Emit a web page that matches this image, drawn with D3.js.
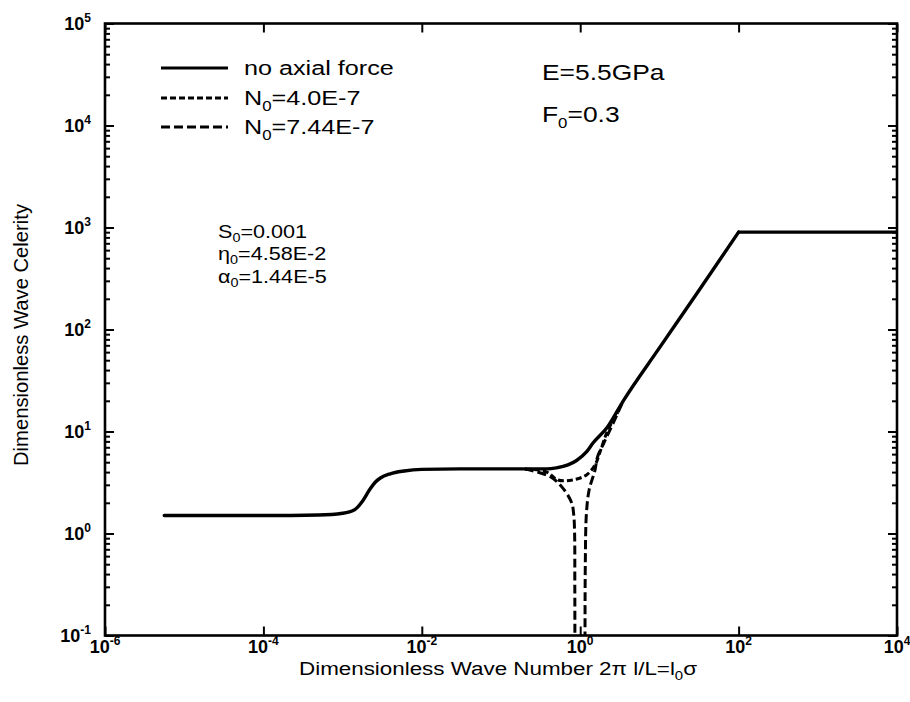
<!DOCTYPE html>
<html>
<head>
<meta charset="utf-8">
<script src="https://cdn.jsdelivr.net/npm/d3@7"></script>
<style>
  html, body { margin: 0; padding: 0; background: #fff; }
  svg { display: block; }
  text { font-family: "Liberation Sans", Arial, Helvetica, sans-serif; fill: #000; }
</style>
</head>
<body>
<svg id="chart" width="910" height="702"></svg>
<script>
// Dispersion curves: dimensionless wave celerity vs dimensionless wave number
const xTicks = [1e-6, 1e-4, 1e-2, 1e0, 1e2, 1e4];
const xTickExp = ["-6", "-4", "-2", "0", "2", "4"];
const yTicks = [1e-1, 1e0, 1e1, 1e2, 1e3, 1e4, 1e5];
const yTickExp = ["-1", "0", "1", "2", "3", "4", "5"];

// no axial force
const solidX = [5.6e-6, 1e-5, 1e-4, 5e-4, 1e-3, 1.4e-3, 1.8e-3, 2.2e-3, 2.6e-3, 3e-3, 4e-3, 6e-3, 1e-2, 3e-2, 0.1, 0.38, 0.5, 0.7, 0.9, 1.2, 1.45, 2.2, 3.5, 10, 30, 100, 1e4];
const solidY = [1.5, 1.5, 1.5, 1.52, 1.58, 1.7, 2.1, 2.7, 3.2, 3.5, 3.85, 4.1, 4.25, 4.3, 4.3, 4.3, 4.4, 4.7, 5.2, 6.3, 7.7, 11, 20, 66, 228, 900, 900];

// N0 = 4.0E-7 (departs from the solid curve near l0σ = 1)
const n1X = [0.2, 0.38, 0.52, 0.8, 1.2, 1.54, 1.78, 2.2, 3.0];
const n1Y = [4.3, 4.0, 3.35, 3.35, 3.75, 4.7, 6.3, 10, 15.5];

// N0 = 7.44E-7, lower branch (celerity falls to zero)
const n2aX = [0.2, 0.42, 0.6, 0.78, 0.83, 0.85, 0.855, 0.858];
const n2aY = [4.3, 3.6, 2.8, 2.0, 1.5, 1.0, 0.3, 0.05];
// N0 = 7.44E-7, upper branch (rising back to the solid curve)
const n2bX = [1.15, 1.16, 1.2, 1.3, 1.54, 1.65, 2.0, 2.6, 3.5];
const n2bY = [0.05, 0.5, 1.6, 2.7, 4.2, 5.6, 7.8, 12, 20];

const svg = d3.select("#chart");
const L = 105, R = 897, T = 23.5, B = 635.5;
const WIDE = 1.2; // horizontal stretch applied to the annotation lettering

const x = d3.scaleLog().domain([1e-6, 1e4]).range([L, R]);
const y = d3.scaleLog().domain([1e-1, 1e5]).range([B, T]);

const yMinor = [];
for (let k = -1; k < 5; k++) for (let m = 2; m <= 9; m++) yMinor.push(m * Math.pow(10, k));

function styleAxis(g) {
  g.select(".domain").remove();
  g.selectAll(".tick line").attr("stroke", "#000").attr("stroke-width", 2);
}

// major/minor ticks on all four sides, pointing inward
svg.append("g").attr("transform", `translate(0,${B})`)
  .call(d3.axisBottom(x).tickValues(xTicks).tickSize(-9).tickFormat(""))
  .call(styleAxis);
svg.append("g").attr("transform", `translate(0,${T})`)
  .call(d3.axisTop(x).tickValues(xTicks).tickSize(-9).tickFormat(""))
  .call(styleAxis);
svg.append("g").attr("transform", `translate(${L},0)`)
  .call(d3.axisLeft(y).tickValues(yTicks).tickSize(-9).tickFormat(""))
  .call(styleAxis);
svg.append("g").attr("transform", `translate(${R},0)`)
  .call(d3.axisRight(y).tickValues(yTicks).tickSize(-9).tickFormat(""))
  .call(styleAxis);
svg.append("g").attr("transform", `translate(${L},0)`)
  .call(d3.axisLeft(y).tickValues(yMinor).tickSize(-5).tickFormat(""))
  .call(styleAxis);
svg.append("g").attr("transform", `translate(${R},0)`)
  .call(d3.axisRight(y).tickValues(yMinor).tickSize(-5).tickFormat(""))
  .call(styleAxis);

// frame
svg.append("rect").attr("x", L).attr("y", T).attr("width", R - L).attr("height", B - T)
  .attr("fill", "none").attr("stroke", "#000").attr("stroke-width", 2.6);

// power-of-ten tick labels
function pow10Label(sel, exp) {
  sel.append("tspan").text("10");
  sel.append("tspan").attr("dy", -8).attr("font-size", 12).text(exp);
}
xTicks.forEach((v, i) => {
  const t = svg.append("text").attr("x", x(v)).attr("y", B + 17)
    .attr("text-anchor", "middle").attr("font-size", 18).attr("font-weight", "bold");
  pow10Label(t, xTickExp[i]);
});
yTicks.forEach((v, i) => {
  const t = svg.append("text").attr("x", L - 14).attr("y", y(v) + 6)
    .attr("text-anchor", "end").attr("font-size", 18).attr("font-weight", "bold");
  pow10Label(t, yTickExp[i]);
});

// axis titles
svg.append("text").attr("x", 498).attr("y", 675).attr("text-anchor", "middle")
  .attr("font-size", 18).attr("textLength", 398).attr("lengthAdjust", "spacingAndGlyphs")
  .call(t => {
    t.append("tspan").text("Dimensionless Wave Number  2\u03C0 l/L=l");
    t.append("tspan").attr("dy", 5).attr("font-size", 12).text("0");
    t.append("tspan").attr("dy", -5).text("\u03C3");
  });
svg.append("text").attr("transform", "translate(28,335) rotate(-90)").attr("text-anchor", "middle")
  .attr("font-size", 20).attr("textLength", 262).attr("lengthAdjust", "spacingAndGlyphs")
  .text("Dimensionless Wave Celerity");

// curves
const clip = svg.append("clipPath").attr("id", "plotclip");
clip.append("rect").attr("x", L).attr("y", T).attr("width", R - L).attr("height", B - T);
const plot = svg.append("g").attr("clip-path", "url(#plotclip)");

const line = d3.line().x(d => x(d[0])).y(d => y(d[1])).curve(d3.curveMonotoneX);
const lineV = d3.line().x(d => x(d[0])).y(d => y(d[1])).curve(d3.curveCatmullRom.alpha(0.5));
const zip = (a, b) => a.map((v, i) => [v, b[i]]);

plot.append("path").datum(zip(n1X, n1Y)).attr("d", lineV)
  .attr("fill", "none").attr("stroke", "#000").attr("stroke-width", 3).attr("stroke-dasharray", "6,3");
plot.append("path").datum(zip(n2aX, n2aY)).attr("d", lineV)
  .attr("fill", "none").attr("stroke", "#000").attr("stroke-width", 3).attr("stroke-dasharray", "9,4");
plot.append("path").datum(zip(n2bX, n2bY)).attr("d", lineV)
  .attr("fill", "none").attr("stroke", "#000").attr("stroke-width", 3).attr("stroke-dasharray", "9,4");

// the solid curve has a sharp corner where it meets the upper cap, so it is
// drawn as a smooth rising part and a flat part joined at that corner
const solidPts = zip(solidX, solidY);
const capY = d3.max(solidY);
const corner = solidY.indexOf(capY);
[solidPts.slice(0, corner + 1), solidPts.slice(corner)].forEach(seg => {
  plot.append("path").datum(seg).attr("d", line)
    .attr("fill", "none").attr("stroke", "#000").attr("stroke-width", 3.4)
    .attr("stroke-linejoin", "round").attr("stroke-linecap", "round");
});

// text with an optional subscript, widened horizontally about its start point
function label(x0, y0, size, parts, subSize, subDy) {
  const t = svg.append("text").attr("x", x0).attr("y", y0).attr("font-size", size)
    .attr("transform", `translate(${x0 * (1 - WIDE)},0) scale(${WIDE},1)`);
  t.append("tspan").text(parts[0]);
  if (parts.length > 1) {
    t.append("tspan").attr("dy", subDy).attr("font-size", subSize).text(parts[1]);
    t.append("tspan").attr("dy", -subDy).text(parts[2]);
  }
  return t;
}

// legend
const legendRows = [
  { dash: null, label: ["no axial force"] },
  { dash: "6,3", label: ["N", "0", "=4.0E-7"] },
  { dash: "9,4", label: ["N", "0", "=7.44E-7"] }
];
const legY = [68, 98, 127];
legendRows.forEach((r, i) => {
  svg.append("line").attr("x1", 161).attr("x2", 228).attr("y1", legY[i]).attr("y2", legY[i])
    .attr("stroke", "#000").attr("stroke-width", 3.2)
    .attr("stroke-dasharray", r.dash);
  label(244, legY[i] + 7.5, 21, r.label, 14, 6);
});

// parameter annotations
label(542, 80, 22, ["E=5.5GPa"]);
label(542, 122, 22, ["F", "0", "=0.3"], 14, 6);

const params = [["S", "0", "=0.001"], ["\u03B7", "0", "=4.58E-2"], ["\u03B1", "0", "=1.44E-5"]];
const paramY = [238, 260, 283];
params.forEach((p, i) => label(218, paramY[i], 18, p, 12, 4));
</script>
</body>
</html>
